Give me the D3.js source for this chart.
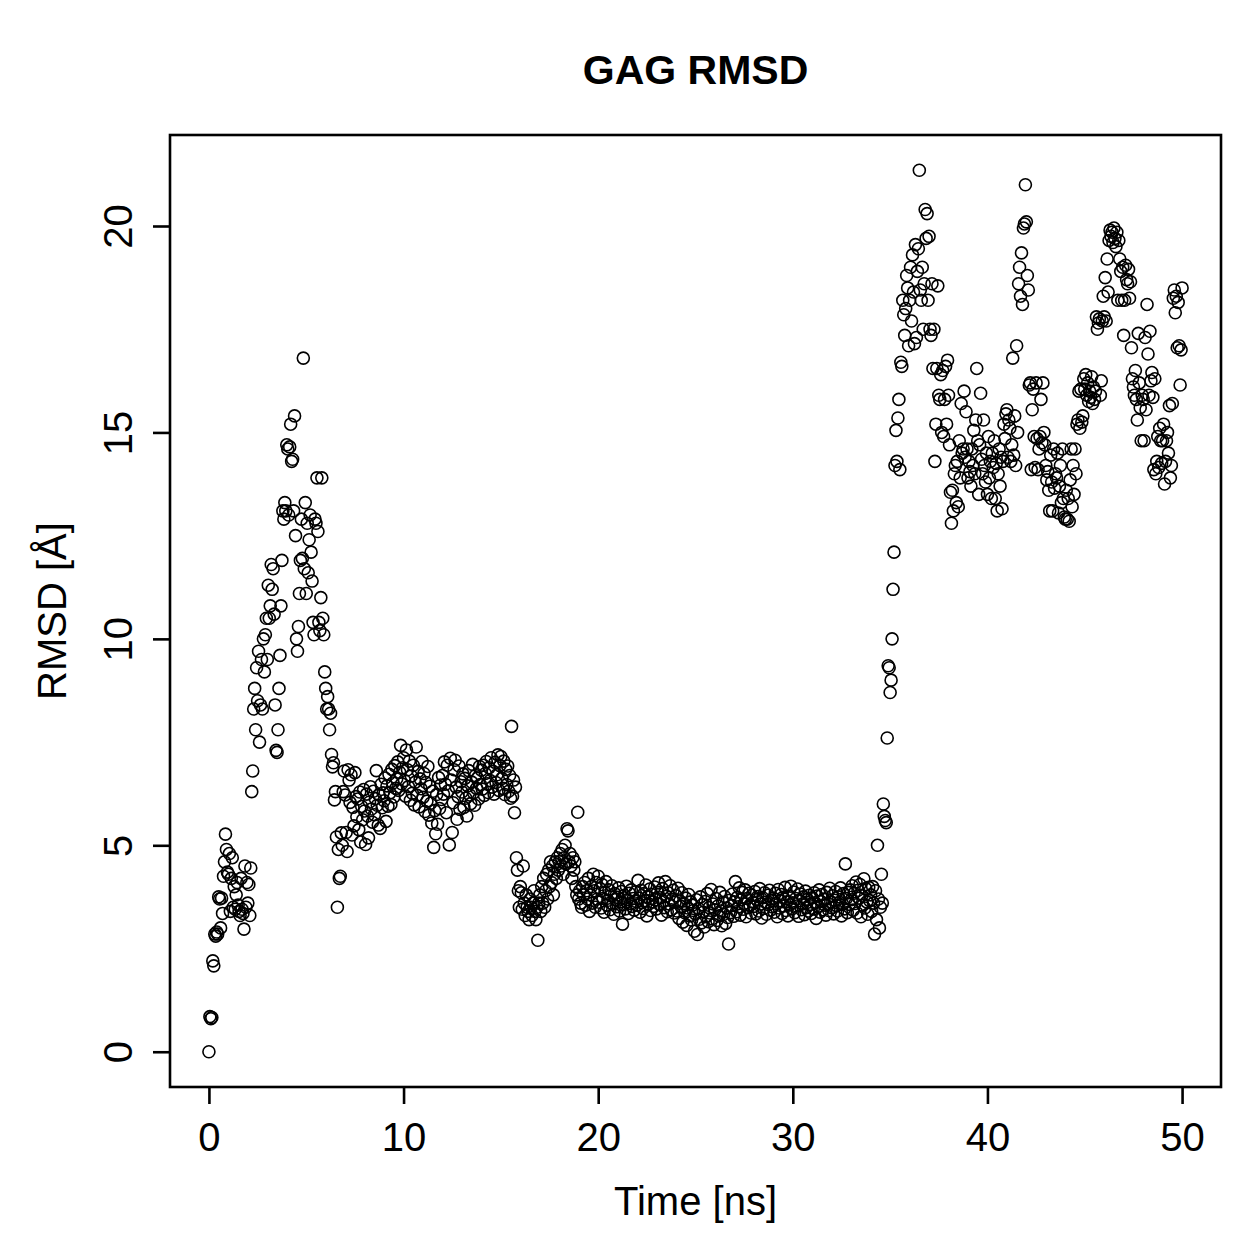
<!DOCTYPE html>
<html>
<head>
<meta charset="utf-8">
<script src="https://cdn.jsdelivr.net/npm/d3@7"></script>
<style>
  html, body { margin: 0; padding: 0; background: #fff; }
  text { font-family: "Liberation Sans", Arial, Helvetica, sans-serif; }
</style>
</head>
<body>
<svg id="chart" width="1259" height="1259"></svg>
<script>
// ---- data (RMSD in Å, one frame every 0.05 ns) ----
const chartTitle = "GAG RMSD";
const xLabel = "Time [ns]";
const yLabel = "RMSD [Å]";
const xTicks = [0, 10, 20, 30, 40, 50];
const yTicks = [0, 5, 10, 15, 20];
const timeStep = 0.05;
const segmentStart = [0, 2.2, 7.0, 15.8, 20.0, 34.0, 36.0];

// 0.00 - 2.15 ns
const rmsdSeg1 = [0.0,0.85,0.80,0.83,2.20,2.08,2.85,2.80,2.90,2.85,
  3.75,3.70,3.00,3.72,3.35,4.25,4.60,5.27,4.90,4.35,
  4.30,4.80,3.40,4.20,4.70,3.50,4.00,3.45,3.80,4.10,
  3.55,3.40,3.30,4.20,3.45,3.35,2.97,4.50,3.50,4.10,
  3.60,4.05,3.30,4.45];
// 2.20 - 6.95 ns
const rmsdSeg2 = [6.3,6.8,8.3,8.8,7.8,9.3,8.5,9.7,7.5,8.4,
  9.5,8.3,10.0,9.2,10.1,10.5,9.5,11.3,10.5,10.8,
  11.8,11.2,11.7,10.6,8.4,7.3,7.25,7.8,8.8,9.6,
  10.8,11.9,13.1,12.9,13.3,13.1,14.7,14.6,13.0,14.65,
  15.2,14.3,14.35,13.1,15.4,12.5,10.0,9.7,10.3,11.1,
  11.9,12.9,11.95,16.8,11.7,13.3,11.1,12.8,11.6,12.4,
  13.0,12.1,11.4,10.4,10.1,12.9,12.8,13.9,12.6,10.4,
  10.2,11.0,13.9,10.5,10.1,9.2,8.8,8.3,8.6,8.3,
  7.8,8.2,7.2,6.9,7.0,6.1,6.3,5.2,3.5,4.9,
  4.2,4.25,5.3,5.0,6.3,6.8];
// 7.00 - 15.75 ns
const rmsdSeg3 = [6.22,5.31,4.85,6.83,6.58,6.04,6.71,5.25,5.92,5.47,6.76,6.18,5.69,6.12,5.38,6.29,5.08,5.94,5.62,6.35,
  5.83,5.02,6.24,5.71,5.18,6.05,6.42,5.88,5.56,6.31,5.74,6.13,6.81,5.97,5.49,6.22,5.41,6.48,5.91,6.27,
  6.08,6.63,5.58,6.44,5.95,6.72,6.27,5.99,6.84,6.51,6.17,6.93,6.38,6.61,7.02,6.33,6.77,7.42,6.49,6.88,
  7.12,6.57,6.19,7.31,6.83,6.42,7.04,6.09,6.68,6.26,6.94,5.98,6.53,7.38,6.21,6.79,5.93,6.61,6.37,7.03,
  6.16,6.74,5.82,6.52,6.07,6.91,5.73,6.43,6.02,5.54,6.31,4.95,5.84,5.28,6.23,5.51,6.64,5.89,6.46,6.11,
  6.69,6.24,7.02,6.48,5.79,6.94,6.32,5.01,7.11,6.58,5.31,6.03,6.83,7.06,6.41,5.63,6.18,6.92,5.87,6.54,
  6.29,6.73,5.92,6.62,6.14,5.71,6.44,6.81,6.22,6.01,6.53,6.96,6.27,5.97,6.69,6.38,6.63,6.12,6.91,6.47,
  6.82,6.36,6.94,6.21,6.74,7.03,6.49,6.28,6.88,6.57,7.12,6.41,6.79,6.24,7.01,6.52,6.71,7.19,6.33,6.93,
  7.15,6.62,6.38,7.04,6.23,6.84,6.47,6.92,6.31,6.69,6.14,7.88,6.19,6.58,5.79,6.41];
// 15.80 - 19.95 ns
const rmsdSeg4 = [4.7,4.4,3.9,3.5,
  4.0,3.85,3.45,4.5,3.6,3.3,3.8,3.5,3.4,3.2,3.7,3.5,3.3,3.6,3.9,3.4,3.2,3.5,2.7,3.6,
  3.8,3.4,4.0,3.6,4.2,3.5,3.9,4.3,3.7,4.4,4.0,4.6,4.1,4.5,3.8,4.3,4.6,4.2,4.7,4.4,
  4.6,4.8,4.5,4.9,4.3,4.7,5.0,4.55,5.4,5.35,4.6,4.8,4.5,4.2,4.7,4.4,4.6,4.0,3.8,5.8,
  3.7,3.9,3.6,3.5,4.0,3.8,4.1,3.55,3.9,3.7,4.2,3.4,3.8,4.0,3.6,4.3,3.9,3.5,4.1,3.7];
// 20.00 - 33.95 ns
const rmsdSeg5 = [4.25,3.62,3.95,3.48,4.05,3.71,3.38,3.86,4.12,3.55,3.67,3.92,3.44,3.78,4.02,3.58,3.33,3.83,3.69,3.51,
  3.74,3.97,3.41,3.63,3.88,3.09,3.56,3.79,3.46,4.01,3.68,3.35,3.84,3.59,3.92,3.52,3.71,3.43,3.87,3.64,
  3.55,4.15,3.72,3.38,3.91,3.61,3.47,3.83,3.66,4.04,3.29,3.75,3.58,3.94,3.42,3.81,3.63,3.52,3.99,3.68,
  3.46,3.86,4.09,3.57,3.73,3.31,3.95,3.64,3.49,4.12,3.77,3.39,3.85,3.58,4.02,3.44,3.69,3.91,3.36,3.62,
  3.78,3.41,3.96,3.23,3.65,3.52,3.85,3.14,3.59,3.37,3.72,3.06,3.48,3.81,3.29,3.63,3.19,3.55,3.42,2.92,
  3.34,3.68,2.84,3.47,3.21,3.75,3.12,3.56,3.38,3.02,3.64,3.27,3.83,3.15,3.49,3.36,3.93,3.22,3.58,3.08,
  3.44,3.71,3.18,3.53,3.29,3.86,3.41,3.05,3.62,3.33,3.76,3.11,3.48,3.25,2.61,3.67,3.37,3.54,3.82,3.28,
  3.63,4.12,3.39,3.74,3.51,3.97,3.31,3.68,3.86,3.45,3.58,3.92,3.27,3.71,3.49,3.84,3.55,3.36,3.79,3.62,
  3.52,3.88,3.34,3.69,3.76,3.41,3.95,3.58,3.24,3.73,3.47,3.85,3.62,3.33,3.79,3.56,3.91,3.43,3.67,3.51,
  3.72,3.38,3.84,3.59,3.27,3.93,3.48,3.66,3.81,3.35,3.74,3.53,3.98,3.42,3.63,3.29,3.77,3.56,4.01,3.46,
  3.61,3.87,3.37,3.71,3.53,3.94,3.28,3.66,3.82,3.44,3.58,3.75,3.32,3.89,3.49,3.69,3.41,3.79,3.57,3.35,
  3.73,3.46,3.85,3.61,3.23,3.77,3.52,3.92,3.38,3.64,3.81,3.44,3.69,3.55,3.31,3.86,3.59,3.42,3.96,3.63,
  3.49,3.78,3.34,3.67,3.88,3.54,3.41,3.75,3.62,3.97,3.29,3.58,3.83,3.46,4.55,3.71,3.37,3.86,3.57,3.92,
  3.68,4.02,3.43,3.84,3.59,4.11,3.36,3.91,3.72,4.05,3.27,3.79,3.55,4.19,3.48,3.95,3.63,3.33,3.98,3.66];
// 34.00 - 35.95 ns
const rmsdSeg6 = [3.8,3.4,4.0,3.6,2.85,3.9,3.2,5.0,3.7,3.0,3.5,4.3,3.6,6.0,5.7,5.6,5.55,7.6,9.35,9.3,
  8.7,9.0,10.0,11.2,12.1,14.2,15.05,14.3,15.35,15.8,14.1,16.7,16.6,18.2,17.85,17.35,18.0,18.8,18.5,17.1];
// 36.00 - 50.00 ns
const rmsdSeg7 = [18.2,19.0,17.7,19.3,18.4,17.15,19.55,17.3,18.9,19.45,21.35,18.45,18.2,19.0,17.5,18.6,20.4,19.7,20.3,18.2,
  19.75,17.5,17.35,18.6,16.55,17.5,14.3,15.2,16.55,18.55,15.9,15.8,16.4,15.0,16.5,14.9,15.8,16.6,15.2,16.75,
  15.9,14.7,13.55,12.8,13.6,13.1,14.0,14.2,13.3,14.3,13.2,14.8,13.9,15.7,14.5,14.6,16.0,14.4,15.5,14.6,
  13.9,14.3,14.05,13.7,14.6,14.2,15.05,14.0,15.3,16.55,14.8,13.5,14.7,15.95,14.35,14.0,15.3,14.2,13.8,14.5,
  13.5,14.9,13.9,14.3,13.4,14.5,14.15,14.8,13.4,14.25,13.1,14.0,14.6,13.7,14.4,13.15,14.3,15.2,14.85,15.45,
  15.55,14.4,15.3,15.1,14.3,14.7,16.8,14.45,15.4,14.2,17.1,15.0,18.6,19.0,18.3,19.35,18.1,19.95,20.05,21.0,
  20.1,18.8,18.45,16.15,16.2,14.1,15.55,16.05,14.9,14.15,16.2,14.85,14.1,14.6,14.9,15.8,14.75,16.2,15.0,14.7,
  14.2,13.85,14.05,13.6,13.1,14.45,13.8,13.1,14.6,13.65,14.0,13.9,14.5,13.05,13.7,14.2,13.3,14.6,13.4,12.95,
  12.9,13.6,12.9,13.4,12.85,13.85,14.6,13.2,14.2,13.5,14.6,14.0,15.2,15.3,16.0,15.1,16.05,15.25,15.4,16.3,
  16.05,16.4,15.9,16.2,15.75,16.0,15.85,16.35,15.7,16.1,15.8,16.0,17.8,17.5,17.65,17.75,15.9,16.25,17.7,18.3,
  17.8,18.75,17.7,19.2,18.4,19.65,19.9,19.75,19.85,19.6,19.95,19.7,19.5,19.85,18.2,19.65,19.2,18.9,18.2,19.0,
  17.35,18.2,19.05,18.7,18.6,18.95,18.25,18.65,17.05,16.3,16.1,15.9,16.5,15.8,15.3,17.4,16.2,15.6,14.8,15.9,
  15.8,14.8,17.3,15.55,18.1,16.9,15.9,17.45,16.25,16.45,15.85,14.1,16.3,14.0,14.3,14.9,14.15,15.1,14.8,14.25,
  14.8,15.2,13.75,14.3,14.8,15.0,14.5,15.65,13.9,14.2,15.7,18.25,18.45,17.9,18.3,17.05,18.15,17.1,16.15,17.0,18.5];

// ---- build points ----
const segments = [rmsdSeg1, rmsdSeg2, rmsdSeg3, rmsdSeg4, rmsdSeg5, rmsdSeg6, rmsdSeg7];
const points = [];
segments.forEach((seg, s) => {
  seg.forEach((v, i) => points.push({ t: +(segmentStart[s] + i * timeStep).toFixed(2), v }));
});

// ---- layout ----
const svg = d3.select("#chart");
svg.append("rect").attr("width", 1259).attr("height", 1259).attr("fill", "#fff");
const box = { left: 170, right: 1221, top: 135, bottom: 1087 };
const fontAxis = "40px";

function padded(ext) { const d = (ext[1] - ext[0]) * 0.04; return [ext[0] - d, ext[1] + d]; }
const x = d3.scaleLinear().domain(padded(d3.extent(points, d => d.t))).range([box.left, box.right]);
const y = d3.scaleLinear().domain(padded(d3.extent(points, d => d.v))).range([box.bottom, box.top]);

// points
svg.append("g").selectAll("circle").data(points).join("circle")
  .attr("cx", d => x(d.t)).attr("cy", d => y(d.v)).attr("r", 6)
  .attr("fill", "none").attr("stroke", "#000").attr("stroke-width", 1.6);

// axes
const xAxis = svg.append("g").attr("transform", `translate(0,${box.bottom})`)
  .call(d3.axisBottom(x).tickValues(xTicks).tickSize(17).tickSizeOuter(0).tickPadding(19));
const yAxis = svg.append("g").attr("transform", `translate(${box.left},0)`)
  .call(d3.axisLeft(y).tickValues(yTicks).tickSize(17).tickSizeOuter(0));
[xAxis, yAxis].forEach(g => {
  g.select(".domain").remove();
  g.selectAll(".tick line").attr("stroke", "#000").attr("stroke-width", 2.6);
  g.selectAll(".tick text").attr("fill", "#000").style("font-size", fontAxis)
    .style("font-family", '"Liberation Sans", Arial, sans-serif');
});
yAxis.selectAll(".tick text")
  .attr("transform", "rotate(-90)").attr("x", 0).attr("y", -38).attr("dy", 0)
  .attr("text-anchor", "middle");

// frame
svg.append("rect").attr("x", box.left).attr("y", box.top)
  .attr("width", box.right - box.left).attr("height", box.bottom - box.top)
  .attr("fill", "none").attr("stroke", "#000").attr("stroke-width", 2.6);

// titles
svg.append("text").attr("x", (box.left + box.right) / 2).attr("y", 84)
  .attr("text-anchor", "middle").style("font-size", "41px").style("font-weight", "bold")
  .text(chartTitle);
svg.append("text").attr("x", (box.left + box.right) / 2).attr("y", 1215)
  .attr("text-anchor", "middle").style("font-size", fontAxis).text(xLabel);
svg.append("text").attr("transform", `translate(66,${(box.top + box.bottom) / 2}) rotate(-90)`)
  .attr("text-anchor", "middle").style("font-size", fontAxis).text(yLabel);
</script>
</body>
</html>
